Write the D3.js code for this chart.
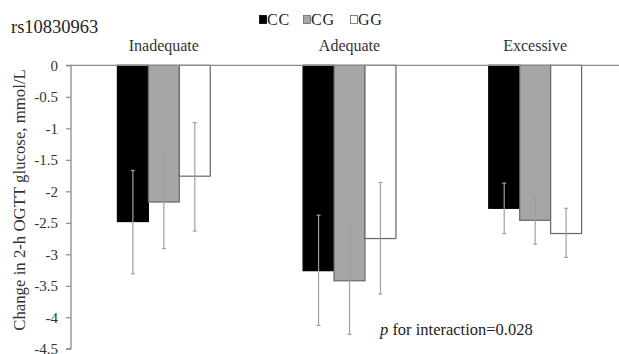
<!DOCTYPE html>
<html>
<head>
<meta charset="utf-8">
<script src="https://cdn.jsdelivr.net/npm/d3@7"></script>
<style>
  body { margin: 0; background: #fff; }
  svg text { font-family: "Liberation Serif", "DejaVu Serif", serif; }
</style>
</head>
<body>
<div id="chart"></div>
<script>
// data
const categories = ["Inadequate", "Adequate", "Excessive"];
const genotypes = ["CC", "CG", "GG"];
const colors = ["#000000", "#a6a6a6", "#ffffff"];
const means = {
  CC: [-2.48, -3.26, -2.27],
  CG: [-2.17, -3.42, -2.46],
  GG: [-1.76, -2.75, -2.67]
};
const errUpper = {
  CC: [-1.67, -2.38, -1.87],
  CG: [-1.42, -2.57, -2.08],
  GG: [-0.91, -1.86, -2.27]
};
const errLower = {
  CC: [-3.31, -4.13, -2.67],
  CG: [-2.91, -4.27, -2.84],
  GG: [-2.63, -3.63, -3.05]
};
const yTicks = [0, -0.5, -1, -1.5, -2, -2.5, -3, -3.5, -4, -4.5];

const width = 619, height = 354;
const serif = "'Liberation Serif', 'DejaVu Serif', serif";

const svg = d3.select("#chart").append("svg")
    .attr("width", width)
    .attr("height", height)
    .attr("font-family", serif);

// scales
const x0 = d3.scaleBand()
    .domain(categories)
    .range([71, 628])
    .paddingInner(0.5)
    .paddingOuter(0.25);

const x1 = d3.scaleBand()
    .domain(genotypes)
    .range([0, x0.bandwidth()]);

const y = d3.scaleLinear()
    .domain([0, -4.5])
    .range([65.3, 348.8]);

// y axis
const yAxis = svg.append("g")
    .attr("transform", "translate(71,0)")
    .call(d3.axisLeft(y).tickValues(yTicks).tickSize(5).tickPadding(8).tickFormat(d => String(d)));
yAxis.attr("font-family", serif).attr("font-size", null);
yAxis.select(".domain").attr("stroke", "#8c8c8c").attr("stroke-width", 1.3).attr("d", `M-5,${y(0)}H0V${y(-4.5)}H-5`);
yAxis.selectAll(".tick line").attr("stroke", "#8c8c8c").attr("stroke-width", 1.2);
yAxis.selectAll(".tick text")
    .attr("fill", "#333")
    .style("font-size", "15px")
    .style("font-family", serif);

// bars
const groups = svg.append("g").selectAll("g")
    .data(categories)
    .join("g")
    .attr("transform", d => `translate(${x0(d)},0)`);

genotypes.forEach((g, gi) => {
  groups.append("rect")
      .attr("x", x1(g))
      .attr("y", y(0))
      .attr("width", x1.bandwidth())
      .attr("height", (d, i) => y(means[g][i]) - y(0))
      .attr("fill", colors[gi])
      .attr("stroke", gi === 0 ? "#000" : "#666")
      .attr("stroke-width", 1.2);
});

// error bars
genotypes.forEach(g => {
  const cx = x1(g) + x1.bandwidth() / 2;
  const eb = groups.append("g").attr("stroke", "#a0a0a0").attr("stroke-width", 1.2);
  eb.append("line")
      .attr("x1", cx).attr("x2", cx)
      .attr("y1", (d, i) => y(errUpper[g][i]))
      .attr("y2", (d, i) => y(errLower[g][i]));
  eb.append("line")
      .attr("x1", cx - 2).attr("x2", cx + 2)
      .attr("y1", (d, i) => y(errUpper[g][i]))
      .attr("y2", (d, i) => y(errUpper[g][i]));
  eb.append("line")
      .attr("x1", cx - 2).attr("x2", cx + 2)
      .attr("y1", (d, i) => y(errLower[g][i]))
      .attr("y2", (d, i) => y(errLower[g][i]));
});

// zero line across the top
svg.append("line")
    .attr("x1", 71).attr("x2", width)
    .attr("y1", y(0)).attr("y2", y(0))
    .attr("stroke", "#8c8c8c")
    .attr("stroke-width", 1.3);

// category labels
svg.append("g").selectAll("text")
    .data(categories)
    .join("text")
    .attr("x", d => x0(d) + x0.bandwidth() / 2)
    .attr("y", 51)
    .attr("text-anchor", "middle")
    .attr("fill", "#333")
    .style("font-size", "16px")
    .text(d => d);

// title
svg.append("text")
    .attr("x", 11)
    .attr("y", 33)
    .attr("fill", "#222")
    .style("font-size", "18.5px")
    .text("rs10830963");

// legend
const legendX = [259, 303, 350];
const legend = svg.append("g").selectAll("g")
    .data(genotypes)
    .join("g")
    .attr("transform", (d, i) => `translate(${legendX[i]},0)`);
legend.append("rect")
    .attr("x", 0.5).attr("y", 15.5)
    .attr("width", 7).attr("height", 8)
    .attr("fill", (d, i) => colors[i])
    .attr("stroke", (d, i) => i === 0 ? "#000" : "#666")
    .attr("stroke-width", 0.8);
legend.append("text")
    .attr("x", 8)
    .attr("y", 24.5)
    .attr("fill", "#222")
    .style("font-size", "16px")
    .style("letter-spacing", "0.8px")
    .text(d => d);

// y axis title
svg.append("text")
    .attr("transform", `translate(25,${200}) rotate(-90)`)
    .attr("text-anchor", "middle")
    .attr("fill", "#333")
    .style("font-size", "16.8px")
    .text("Change in 2-h OGTT glucose, mmol/L");

// interaction annotation
const ann = svg.append("text")
    .attr("x", 380)
    .attr("y", 335)
    .attr("fill", "#222")
    .style("font-size", "16.5px");
ann.append("tspan").style("font-style", "italic").text("p");
ann.append("tspan").text(" for interaction=0.028");
</script>
</body>
</html>
